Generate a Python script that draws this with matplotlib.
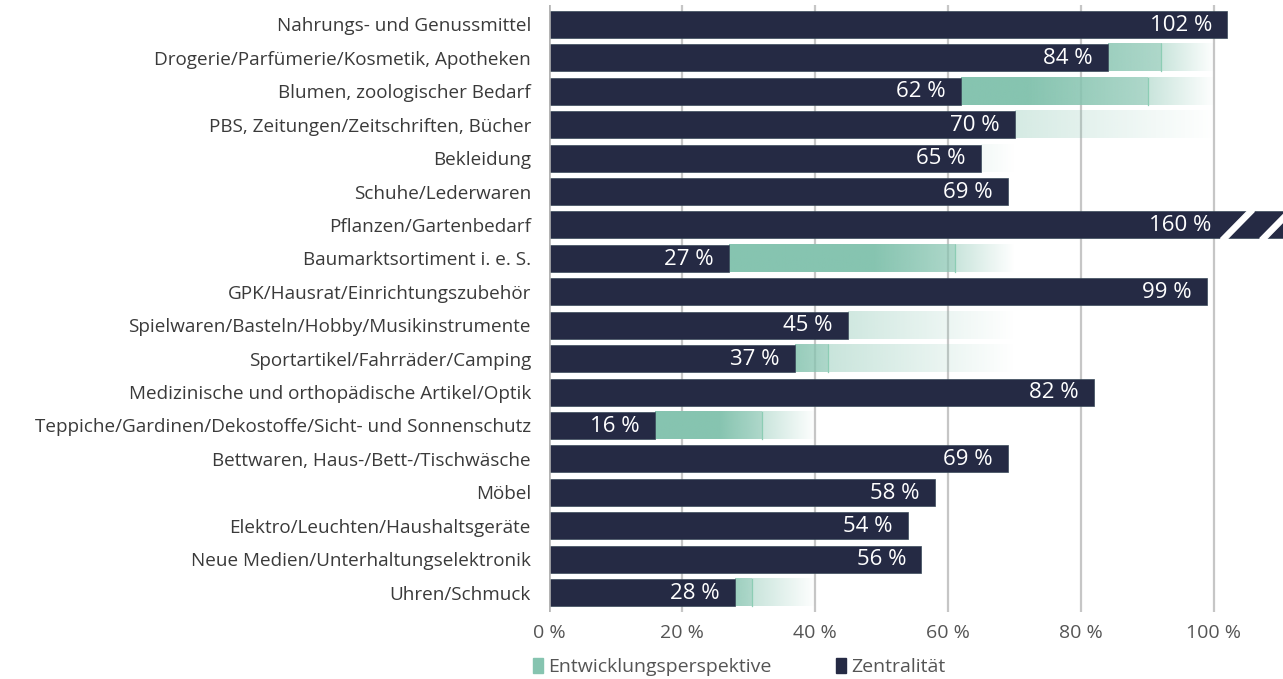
import matplotlib
matplotlib.use("Agg")
import matplotlib.pyplot as plt
import numpy as np
from matplotlib.patches import Patch, Polygon

plt.rcParams['font.family'] = ['Open Sans', 'DejaVu Sans']

categories = [
    "Nahrungs- und Genussmittel",
    "Drogerie/Parfümerie/Kosmetik, Apotheken",
    "Blumen, zoologischer Bedarf",
    "PBS, Zeitungen/Zeitschriften, Bücher",
    "Bekleidung",
    "Schuhe/Lederwaren",
    "Pflanzen/Gartenbedarf",
    "Baumarktsortiment i. e. S.",
    "GPK/Hausrat/Einrichtungszubehör",
    "Spielwaren/Basteln/Hobby/Musikinstrumente",
    "Sportartikel/Fahrräder/Camping",
    "Medizinische und orthopädische Artikel/Optik",
    "Teppiche/Gardinen/Dekostoffe/Sicht- und Sonnenschutz",
    "Bettwaren, Haus-/Bett-/Tischwäsche",
    "Möbel",
    "Elektro/Leuchten/Haushaltsgeräte",
    "Neue Medien/Unterhaltungselektronik",
    "Uhren/Schmuck",
]
zentralitaet = [102, 84, 62, 70, 65, 69, 160, 27, 99, 45, 37, 82, 16, 69, 58, 54, 56, 28]
# Entwicklungsperspektive: lower and upper bound (None = keine)
persp_low = [None, 92, 90, 61, 48, None, None, 61, None, 41, 42, None, 32, None, None, None, None, 30.5]
persp_high = [None, 100, 100, 100, 70, None, None, 70, None, 70, 70, None, 40, None, None, None, None, 40]
xticks = [0, 20, 40, 60, 80, 100]

navy = "#252a44"
green = np.array([134, 196, 176]) / 255.0
grid_c = "#c6c6c6"

fig = plt.figure(figsize=(12.83, 6.79), dpi=100)
ax = fig.add_axes([549 / 1283, 1 - 612 / 679, 734 / 1283, 607 / 679])
xmax = 734 / 6.65
n = len(categories)
bh = 0.81

for t in xticks[1:]:
    ax.axvline(t, color=grid_c, lw=1.6, zorder=0.5)
ax.axvline(0, color="#b4b4b4", lw=2.6, zorder=3)

def grad(x0, x1, y, alpha_fn, z):
    if x1 <= x0:
        return
    xs = np.linspace(x0, x1, 300)
    img = np.zeros((1, len(xs), 4))
    img[0, :, :3] = green
    img[0, :, 3] = alpha_fn(xs)
    ax.imshow(img, extent=[x0, x1, y + bh / 2, y - bh / 2], aspect="auto",
              interpolation="bilinear", zorder=z)

for i, v in enumerate(zentralitaet):
    lo, hi = persp_low[i], persp_high[i]
    if lo is not None:
        def fa(x, lo=lo):
            s = 0.8 * lo
            return np.where(x <= s, 1.0, 1.0 - 0.33 * (x - s) / (lo - s))
        def fb(x, lo=lo, hi=hi):
            return 0.45 * (hi - x) / (hi - lo)
        grad(v, lo, i, fa, 1)
        grad(max(v, lo), hi, i, fb, 1)
        if lo > v:
            ax.plot([lo, lo], [i - bh / 2, i + bh / 2], color="#8ccdb4", lw=0.9, zorder=1.2)

ax.barh(range(n), zentralitaet, height=bh, color=navy, edgecolor="#3a4a5a", linewidth=0.5, zorder=2)
ax.set_aspect("auto")
ax.set_xlim(0, xmax)
ax.set_ylim(n - 0.42, -0.58)

# break marks for the clipped bar
brk = xmax - 9.4
for i, v in enumerate(zentralitaet):
    if v > xmax:
        for k in range(2):
            x0 = brk + k * 5.9
            poly = Polygon([[x0, i + bh / 2], [x0 + 1.1, i + bh / 2],
                            [x0 + 1.1 + 4.0, i - bh / 2], [x0 + 4.0, i - bh / 2]],
                           closed=True, color="white", zorder=2.5)
            ax.add_patch(poly)
        lx = brk + 0.9
    else:
        lx = v
    ax.annotate(f"{v} %", (lx, i), xytext=(-11, -0.5), textcoords="offset points",
                ha="right", va="center", color="white", fontsize=16, zorder=4)

ax.set_yticks(range(n))
ax.set_yticklabels(categories, fontsize=13.6, color="#3a3a3a")
ax.set_xticks(xticks)
ax.set_xticklabels([f"{t} %" for t in xticks], fontsize=14, color="#555555")
ax.tick_params(axis="both", length=0)
ax.tick_params(axis="y", pad=13)
ax.tick_params(axis="x", pad=9)
for s in ax.spines.values():
    s.set_visible(False)

handles = [Patch(color=green, label="Entwicklungsperspektive"),
           Patch(color=navy, label="Zentralität")]
leg = fig.legend(handles=handles, loc="center", bbox_to_anchor=(0.576, 0.018), ncol=2,
                 frameon=False, fontsize=14, handlelength=0.55, handleheight=0.85,
                 handletextpad=0.25, columnspacing=3.3)
for t in leg.get_texts():
    t.set_color("#555555")

fig.savefig("out.png", dpi=100)
